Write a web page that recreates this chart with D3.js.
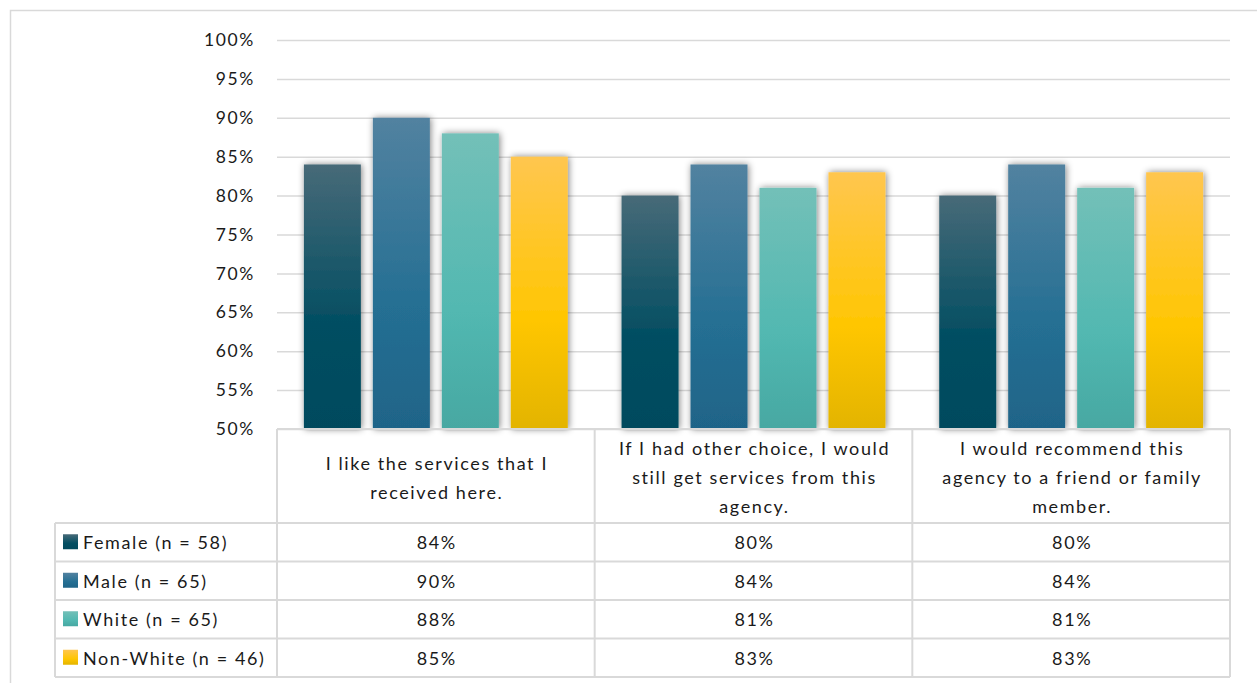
<!DOCTYPE html>
<html>
<head>
<meta charset="utf-8">
<script src="https://cdn.jsdelivr.net/npm/d3@7/dist/d3.min.js"></script>
<style>
  html, body { margin: 0; padding: 0; background: #ffffff; }
  svg { display: block; }
  text { font-family: Lato, "Open Sans", sans-serif; fill: #1a1a1a; letter-spacing: 1.6px; }
</style>
</head>
<body>
<svg id="chart" width="1257" height="683"></svg>
<script>
// Survey statements (categories)
const categories = [
  ["I like the services that I", "received here."],
  ["If I had other choice, I would", "still get services from this", "agency."],
  ["I would recommend this", "agency to a friend or family", "member."]
];
// Respondent groups (series)
const seriesNames = ["Female (n = 58)", "Male (n = 65)", "White (n = 65)", "Non-White (n = 46)"];
// Percent agreeing, per group, per statement
const female   = [84, 80, 80];
const male     = [90, 84, 84];
const white    = [88, 81, 81];
const nonWhite = [85, 83, 83];
const seriesValues = [female, male, white, nonWhite];
// Axis ticks
const yTicks = [50, 55, 60, 65, 70, 75, 80, 85, 90, 95, 100];

// Gradient stops per series: light top, base, darker bottom
const palette = [
  { top: "#476a78", mid: "#034e62", bot: "#024a5d" },
  { top: "#5282a0", mid: "#256f93", bot: "#1f6488" },
  { top: "#73c0b8", mid: "#52b8b1", bot: "#47a8a2" },
  { top: "#ffc64f", mid: "#ffc602", bot: "#e3b400" }
];

const svg = d3.select("#chart");
const defs = svg.append("defs");

palette.forEach((c, i) => {
  const g = defs.append("linearGradient")
    .attr("id", "grad" + i).attr("x1", 0).attr("y1", 0).attr("x2", 0).attr("y2", 1);
  g.append("stop").attr("offset", "0%").attr("stop-color", c.top);
  g.append("stop").attr("offset", "60%").attr("stop-color", c.mid);
  g.append("stop").attr("offset", "100%").attr("stop-color", c.bot);
});

const shadow = defs.append("filter").attr("id", "shadow")
  .attr("x", "-30%").attr("y", "-10%").attr("width", "160%").attr("height", "120%");
shadow.append("feGaussianBlur").attr("in", "SourceAlpha").attr("stdDeviation", 3.5).attr("result", "b");
shadow.append("feOffset").attr("in", "b").attr("dx", 1).attr("dy", 0).attr("result", "o");
shadow.append("feComponentTransfer").attr("in", "o").attr("result", "s")
  .append("feFuncA").attr("type", "linear").attr("slope", 0.5);
const merge = shadow.append("feMerge");
merge.append("feMergeNode").attr("in", "s");
merge.append("feMergeNode").attr("in", "SourceGraphic");

// Chart frame
svg.append("rect")
  .attr("x", 10.5).attr("y", 10.5).attr("width", 1250).attr("height", 690)
  .attr("fill", "#ffffff").attr("stroke", "#d9d9d9").attr("stroke-width", 1.5);

const plot = { left: 277, right: 1230, top: 40, bottom: 429 };

const y = d3.scaleLinear().domain([50, 100]).range([plot.bottom, plot.top]);
const x0 = d3.scaleBand().domain(d3.range(categories.length))
  .range([plot.left, plot.right]).paddingInner(0).paddingOuter(0);
const x1 = d3.scaleBand().domain(d3.range(seriesNames.length))
  .range([0, x0.bandwidth()]).paddingInner(0.174).paddingOuter(0.39);

// Gridlines
const grid = svg.append("g")
  .attr("transform", `translate(${plot.left},0)`)
  .call(d3.axisLeft(y).tickValues(yTicks).tickSize(-(plot.right - plot.left)).tickFormat(""));
grid.select(".domain").remove();
grid.selectAll("line").attr("stroke", "#d9d9d9").attr("stroke-width", 1.5);

// Y axis labels
const yAxis = svg.append("g")
  .attr("transform", `translate(${plot.left - 19},0)`)
  .call(d3.axisLeft(y).tickValues(yTicks).tickSize(0).tickFormat(d => d + "%"));
yAxis.select(".domain").remove();
yAxis.selectAll("text").attr("font-size", 17.5).attr("fill", "#1a1a1a")
  .attr("font-family", "Lato, 'Open Sans', sans-serif").attr("dx", 0);

// Bars
const groups = svg.append("g").selectAll("g")
  .data(categories).join("g")
  .attr("transform", (d, i) => `translate(${x0(i)},0)`);
groups.selectAll("rect")
  .data((d, ci) => seriesValues.map((vals, si) => ({ si, v: vals[ci] })))
  .join("rect")
  .attr("x", d => x1(d.si))
  .attr("width", x1.bandwidth())
  .attr("y", d => y(d.v))
  .attr("height", d => y(50) - y(d.v))
  .attr("fill", d => `url(#grad${d.si})`)
  .attr("filter", "url(#shadow)");

// Data table
const headerTop = plot.bottom, headerBottom = 523;
const rowH = 38.5;
const tableLeft = 55;
const tableBottom = headerBottom + rowH * seriesNames.length;
const lineColor = "#d9d9d9";
const table = svg.append("g");

// Header cells
categories.forEach((lines, i) => {
  const cx = x0(i) + x0.bandwidth() / 2 + 1;
  const lh = 29;
  const midY = (headerTop + headerBottom) / 2 + 1;
  const startY = midY - (lines.length - 1) * lh / 2;
  lines.forEach((t, k) => {
    table.append("text")
      .attr("x", cx).attr("y", startY + k * lh)
      .attr("text-anchor", "middle").attr("dominant-baseline", "central")
      .attr("font-size", 18).text(t);
  });
});

// Rows
seriesNames.forEach((name, si) => {
  const top = headerBottom + si * rowH;
  const cy = top + rowH / 2;
  table.append("rect")
    .attr("x", 63).attr("y", cy - 8).attr("width", 15).attr("height", 15)
    .attr("fill", `url(#grad${si})`);
  table.append("text")
    .attr("x", 83).attr("y", cy)
    .attr("dominant-baseline", "central").attr("font-size", 18).text(name);
  categories.forEach((c, ci) => {
    table.append("text")
      .attr("x", x0(ci) + x0.bandwidth() / 2 + 1).attr("y", cy)
      .attr("text-anchor", "middle").attr("dominant-baseline", "central")
      .attr("font-size", 18).text(seriesValues[si][ci] + "%");
  });
});

// Table grid lines
const hl = (x1p, x2p, yp) => table.append("line")
  .attr("x1", x1p).attr("x2", x2p).attr("y1", yp).attr("y2", yp)
  .attr("stroke", lineColor).attr("stroke-width", 2);
const vl = (xp, y1p, y2p) => table.append("line")
  .attr("x1", xp).attr("x2", xp).attr("y1", y1p).attr("y2", y2p)
  .attr("stroke", lineColor).attr("stroke-width", 2);

hl(plot.left, plot.right, headerTop);
for (let r = 0; r <= seriesNames.length; r++) {
  hl(tableLeft, plot.right, headerBottom + r * rowH);
}
vl(tableLeft, headerBottom, tableBottom);
for (let c = 0; c <= categories.length; c++) {
  const xp = c === categories.length ? plot.right : x0(c);
  vl(xp, headerTop, tableBottom);
}
</script>
</body>
</html>
